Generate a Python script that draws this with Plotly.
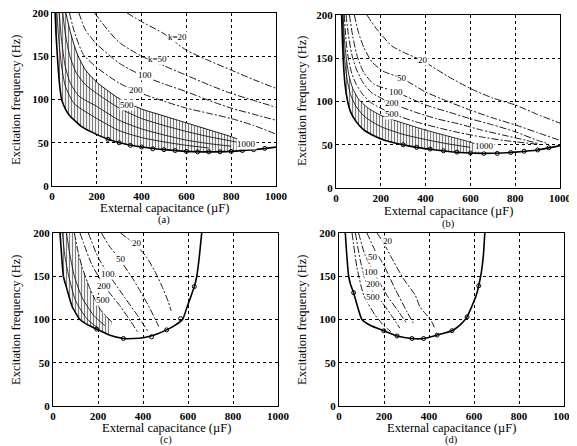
import plotly.graph_objects as go

W, H = 577, 446
OFF = 8  # page body margin of the browser; layout below is given in window pixels

# ---------------- data ----------------
TICKS_X = [0, 200, 400, 600, 800, 1000]
TICKS_Y = [0, 50, 100, 150, 200]
X_TITLE = "External capacitance (\u00b5F)"
Y_TITLE = "Excitation frequency (Hz)"
PANEL_TAGS = ["(a)", "(b)", "(c)", "(d)"]

# panel (a)
A_BND_X = [14, 18, 24, 32, 43, 60, 80, 100, 130, 180, 250, 300, 400, 500, 600, 700, 800, 900, 1000]
A_BND_Y = [200, 175, 150, 122, 100, 89, 81, 76, 69, 62, 54, 50, 45, 42, 40, 39.5, 40, 42, 45]
A_MRK_X = [250, 300, 350, 400, 450, 500, 550, 600, 650, 700, 750, 800, 850, 900, 950]
A_MRK_Y = [54, 50, 47, 45, 43, 42, 41, 40, 39.5, 39.5, 39.5, 40, 41, 42, 43.5]
A_K20_X = [335, 400, 500, 600, 700, 800, 900, 1000]
A_K20_Y = [200, 190, 176, 157, 145, 134, 123, 113]
A_K50_X = [190, 250, 300, 400, 500, 600, 700, 800, 900, 1000]
A_K50_Y = [200, 180, 166, 150, 139, 128, 117, 107, 99, 91]
A_K100_X = [120, 150, 200, 300, 400, 500, 600, 700, 800, 900, 1000]
A_K100_Y = [200, 180, 164, 142, 128, 118, 109, 99, 90, 83, 76]
A_K200_X = [78, 100, 140, 200, 300, 400, 500, 600, 700, 800, 900, 1000]
A_K200_Y = [200, 178, 152, 137, 119, 107, 98, 90, 84, 78, 70, 60]
A_K500_X = [62, 80, 100, 117, 150, 200, 300, 400, 500, 600, 700, 800, 880]
A_K500_Y = [200, 180, 162, 150, 134, 120, 101, 89, 81, 73, 65, 57, 49]
A_K1K_X = [48, 60, 80, 110, 150, 200, 300, 400, 500, 600, 700, 800, 860]
A_K1K_Y = [200, 175, 150, 130, 117, 107, 90, 78, 70, 63, 57, 52, 49]
A_K2K_X = [32, 42, 58, 80, 120, 200, 300, 400, 500, 600, 700, 800]
A_K2K_Y = [200, 170, 140, 120, 104, 92, 76, 66, 59, 53, 49, 46]
A_K5K_X = [22, 30, 42, 60, 100, 200, 300, 400, 500, 600, 700]
A_K5K_Y = [200, 170, 140, 115, 95, 78, 64, 56, 51, 47, 44]
A_LBL_TXT = ["k=20", "k=50", "100", "200", "500", "1000"]
A_LBL_X = [560, 470, 415, 374, 337, 870]
A_LBL_Y = [172, 147, 128, 111, 94, 49]

# panel (b)
B_BND_X = [25, 28, 32, 40, 52, 65, 89, 120, 164, 220, 298, 360, 446, 550, 650, 744, 800, 900, 1000]
B_BND_Y = [200, 175, 150, 120, 100, 88, 77, 68, 61, 55, 50, 47, 44, 41, 40, 40.5, 41.5, 44, 49]
B_MRK_X = [300, 360, 420, 480, 540, 600, 660, 720, 780, 840, 900, 950]
B_MRK_Y = [50, 47, 45, 43, 41.5, 40.5, 40, 40, 41, 42.5, 44, 46.5]
B_K20_X = [138, 175, 213, 250, 300, 387, 500, 600, 700, 800, 900, 1000]
B_K20_Y = [200, 186, 174, 164, 157, 147, 129, 115, 104, 96, 85, 75]
B_K50_X = [82, 100, 125, 160, 210, 293, 400, 500, 600, 700, 800, 900, 1000]
B_K50_Y = [200, 180, 162, 146, 135, 127, 111, 100, 90, 81, 73, 64, 55]
B_K100_X = [60, 75, 95, 125, 170, 268, 400, 500, 600, 700, 800, 900, 950]
B_K100_Y = [200, 175, 152, 133, 120, 111, 96, 88, 80, 73, 65, 55, 51]
B_K200_X = [45, 55, 70, 90, 120, 160, 249, 350, 450, 550, 650, 750, 850, 910]
B_K200_Y = [200, 178, 155, 138, 122, 110, 98, 88, 80, 74, 67, 61, 55, 51]
B_K500_X = [37, 45, 55, 70, 90, 120, 160, 250, 350, 450, 550, 650, 750, 850, 920]
B_K500_Y = [200, 170, 150, 133, 120, 108, 98, 86, 77, 70, 64, 59, 55, 52, 50]
B_K1K_X = [32, 38, 46, 58, 75, 100, 140, 200, 300, 400, 500, 600, 640]
B_K1K_Y = [200, 170, 150, 130, 115, 103, 93, 84, 75, 67, 60, 53, 49]
B_K2K_X = [28, 33, 40, 50, 65, 90, 130, 200, 300, 400, 500, 600]
B_K2K_Y = [200, 170, 145, 125, 108, 94, 82, 71, 62, 56, 51, 47]
B_LBL_TXT = ["20", "50", "100", "200", "500", "1000"]
B_LBL_X = [387, 293, 268, 249, 249, 665]
B_LBL_Y = [148, 127, 111, 98, 86, 48]

# panel (c)
C_BND_X = [31, 38, 46, 61, 85, 120, 160, 194, 250, 313, 357, 401, 450, 505, 540, 576, 594, 616, 628, 639, 650, 657, 661]
C_BND_Y = [200, 175, 150, 136, 115, 100, 93, 89, 82, 78, 78, 79, 82, 88, 93, 100, 113, 129, 138, 150, 172, 190, 200]
C_MRK_X = [194, 313, 438, 505, 567, 628]
C_MRK_Y = [89, 78, 80, 88, 101, 138]
C_K20_X = [300, 330, 370, 416, 450, 480, 513, 525]
C_K20_Y = [200, 194, 186, 172, 157, 141, 120, 110]
C_K50_X = [215, 250, 295, 360, 420, 470]
C_K50_Y = [200, 185, 170, 145, 118, 92]
C_K100_X = [157, 200, 245, 320, 380, 420]
C_K100_Y = [200, 172, 153, 125, 103, 87]
C_K200_X = [120, 170, 227, 300, 345, 375]
C_K200_Y = [200, 165, 139, 115, 98, 86]
C_K500_X = [95, 110, 130, 164, 209, 261]
C_K500_Y = [200, 180, 160, 136, 112, 97]
C_K1K_X = [60, 75, 95, 130, 180, 230]
C_K1K_Y = [200, 175, 150, 125, 105, 93]
C_K2K_X = [42, 52, 70, 100, 150, 200]
C_K2K_Y = [200, 175, 150, 122, 101, 90]
C_LBL_TXT = ["20", "50", "100", "200", "500"]
C_LBL_X = [375, 300, 245, 227, 223]
C_LBL_Y = [188, 170, 153, 139, 122]

# panel (d)
D_BND_X = [28, 33, 43, 52, 65, 80, 102, 140, 199, 258, 324, 376, 436, 502, 540, 569, 590, 610, 621, 633, 642, 648]
D_BND_Y = [200, 180, 150, 140, 131, 117, 100, 93, 87, 81, 78, 78, 82, 87, 94, 103, 115, 128, 139, 155, 175, 200]
D_MRK_X = [65, 199, 258, 324, 376, 436, 502, 569, 621]
D_MRK_Y = [131, 87, 81, 78, 78, 82, 87, 103, 139]
D_K20_X = [169, 200, 228, 287, 339, 361, 390, 413, 425]
D_K20_Y = [200, 188, 174, 147, 128, 114, 105, 97, 90]
D_K50_X = [124, 160, 199, 250, 302, 330]
D_K50_Y = [200, 180, 163, 135, 109, 96]
D_K100_X = [87, 115, 154, 213, 265, 300]
D_K100_Y = [200, 175, 155, 128, 109, 96]
D_K200_X = [73, 95, 124, 191, 243, 270]
D_K200_Y = [200, 168, 141, 120, 101, 90]
D_K500_X = [58, 80, 110, 161, 199, 230]
D_K500_Y = [200, 160, 128, 105, 93, 86]
D_LBL_TXT = ["20", "50", "100", "200", "500"]
D_LBL_X = [217, 150, 143, 150, 150]
D_LBL_Y = [191, 172, 155, 141, 126]

# ---------------- layout geometry (window pixels) ----------------
PANEL_PX = {  # left, right, top, bottom
    "a": (52, 276, 13, 186),
    "b": (336, 560, 15, 188),
    "c": (53, 278, 233, 406),
    "d": (339, 564, 233, 406),
}


def px2paper_x(px):
    return (px - OFF) / W


def px2paper_y(py):
    return 1 - (py - OFF) / H


FONT = "Liberation Serif"
fig = go.Figure()

DASH = "7px,2px,2px,2px"


def add_line(ax, xs, ys, dash=DASH, width=0.9):
    fig.add_trace(go.Scatter(x=xs, y=ys, mode="lines", xaxis="x" + ax, yaxis="y" + ax,
                             line=dict(color="black", width=width, dash=dash, shape="spline", smoothing=0.6),
                             hoverinfo="skip", showlegend=False))


def add_hatch(ax, tx, ty, bx, by, xcut, bcut, size=3):
    px = [x for x in tx if x <= xcut]
    py = [y for x, y in zip(tx, ty) if x <= xcut]
    bpx = [x for x in bx if x <= bcut][::-1]
    bpy = [y for x, y in zip(bx, by) if x <= bcut][::-1]
    fig.add_trace(go.Scatter(x=px + bpx, y=py + bpy, mode="lines", fill="toself",
                             xaxis="x" + ax, yaxis="y" + ax,
                             line=dict(width=0, color="black"),
                             fillcolor="rgba(255,255,255,0)",
                             fillpattern=dict(shape="|", size=size, solidity=0.4, fgcolor="black",
                                              bgcolor="white"),
                             hoverinfo="skip", showlegend=False))


def add_boundary(ax, xs, ys, mx, my):
    fig.add_trace(go.Scatter(x=xs, y=ys, mode="lines", xaxis="x" + ax, yaxis="y" + ax,
                             line=dict(color="black", width=1.6, shape="spline", smoothing=0.5),
                             hoverinfo="skip", showlegend=False))
    fig.add_trace(go.Scatter(x=mx, y=my, mode="markers", xaxis="x" + ax, yaxis="y" + ax,
                             marker=dict(symbol="circle-open", size=4, color="black", line=dict(width=1)),
                             hoverinfo="skip", showlegend=False))


def add_labels(ax, txt, xs, ys):
    for t, x, y in zip(txt, xs, ys):
        fig.add_annotation(x=x, y=y, xref="x" + ax, yref="y" + ax, text=t, showarrow=False,
                           font=dict(family=FONT, size=9, color="black"),
                           bgcolor="white", borderpad=0)


axes = {"a": "", "b": "2", "c": "3", "d": "4"}

# panel a
ax = axes["a"]
add_hatch(ax, A_K500_X, A_K500_Y, A_BND_X, A_BND_Y, 880, 900)
for xs, ys in [(A_K1K_X, A_K1K_Y), (A_K2K_X, A_K2K_Y), (A_K5K_X, A_K5K_Y)]:
    add_line(ax, xs, ys, dash="solid", width=0.8)
for xs, ys in [(A_K20_X, A_K20_Y), (A_K50_X, A_K50_Y), (A_K100_X, A_K100_Y), (A_K200_X, A_K200_Y)]:
    add_line(ax, xs, ys)
add_line(ax, A_K500_X, A_K500_Y, dash="solid", width=0.9)
add_boundary(ax, A_BND_X, A_BND_Y, A_MRK_X, A_MRK_Y)
add_labels(ax, A_LBL_TXT, A_LBL_X, A_LBL_Y)

# panel b
ax = axes["b"]
add_hatch(ax, B_K1K_X, B_K1K_Y, B_BND_X, B_BND_Y, 640, 650)
add_line(ax, B_K2K_X, B_K2K_Y, dash="solid", width=0.8)
add_line(ax, B_K1K_X, B_K1K_Y, dash="solid", width=0.8)
for xs, ys in [(B_K20_X, B_K20_Y), (B_K50_X, B_K50_Y), (B_K100_X, B_K100_Y), (B_K200_X, B_K200_Y),
               (B_K500_X, B_K500_Y)]:
    add_line(ax, xs, ys)
add_boundary(ax, B_BND_X, B_BND_Y, B_MRK_X, B_MRK_Y)
add_labels(ax, B_LBL_TXT, B_LBL_X, B_LBL_Y)

# panel c
ax = axes["c"]
add_hatch(ax, C_K500_X, C_K500_Y, C_BND_X, C_BND_Y, 261, 250)
add_line(ax, C_K1K_X, C_K1K_Y, dash="solid", width=0.8)
add_line(ax, C_K2K_X, C_K2K_Y, dash="solid", width=0.8)
for xs, ys in [(C_K20_X, C_K20_Y), (C_K50_X, C_K50_Y), (C_K100_X, C_K100_Y), (C_K200_X, C_K200_Y),
               (C_K500_X, C_K500_Y)]:
    add_line(ax, xs, ys)
add_boundary(ax, C_BND_X, C_BND_Y, C_MRK_X, C_MRK_Y)
add_labels(ax, C_LBL_TXT, C_LBL_X, C_LBL_Y)

# panel d
ax = axes["d"]
for xs, ys in [(D_K20_X, D_K20_Y), (D_K50_X, D_K50_Y), (D_K100_X, D_K100_Y), (D_K200_X, D_K200_Y),
               (D_K500_X, D_K500_Y)]:
    add_line(ax, xs, ys)
add_boundary(ax, D_BND_X, D_BND_Y, D_MRK_X, D_MRK_Y)
add_labels(ax, D_LBL_TXT, D_LBL_X, D_LBL_Y)

# axes
axis_common = dict(showline=True, mirror=True, linecolor="black", linewidth=1,
                   showgrid=True, gridcolor="black", griddash="dot", gridwidth=1,
                   zeroline=False, ticks="", fixedrange=True, automargin=False, ticklabelstandoff=0,
                   ticklabeloverflow="allow",
                   tickfont=dict(family=FONT, size=11, color="black", weight="bold"))
layout_axes = {}
for key, (l, r, t, b) in PANEL_PX.items():
    suf = axes[key]
    layout_axes["xaxis" + suf] = dict(axis_common, domain=[px2paper_x(l), px2paper_x(r)], range=[0, 1000],
                                      tickvals=TICKS_X, anchor="y" + suf if suf else "y")
    layout_axes["yaxis" + suf] = dict(axis_common, domain=[px2paper_y(b), px2paper_y(t)], range=[0, 200],
                                      tickvals=TICKS_Y, anchor="x" + suf if suf else "x")

fig.update_layout(width=W, height=H, margin=dict(l=0, r=0, t=0, b=0, autoexpand=False),
                  paper_bgcolor="white", plot_bgcolor="white", showlegend=False, **layout_axes)

# titles
TITLE_POS = {"a": (164, 208, 16, 100, 220), "b": (448, 210.5, 302, 101, 223.5),
             "c": (166, 428, 16, 320, 440), "d": (451, 428, 302, 320, 440)}
for i, key in enumerate(["a", "b", "c", "d"]):
    xt, yt, xy, yy, ytag = TITLE_POS[key]
    fig.add_annotation(x=px2paper_x(xt), y=px2paper_y(yt), xref="paper", yref="paper", text=X_TITLE,
                       showarrow=False, font=dict(family=FONT, size=12.5, color="black"),
                       xanchor="center", yanchor="middle")
    fig.add_annotation(x=px2paper_x(xy), y=px2paper_y(yy), xref="paper", yref="paper", text=Y_TITLE,
                       showarrow=False, textangle=-90, font=dict(family=FONT, size=12.5, color="black"),
                       xanchor="center", yanchor="middle")
    fig.add_annotation(x=px2paper_x(xt), y=px2paper_y(ytag), xref="paper", yref="paper", text=PANEL_TAGS[i],
                       showarrow=False, font=dict(family=FONT, size=10.5, color="black"),
                       xanchor="center", yanchor="middle")

fig.write_html("out.html")
